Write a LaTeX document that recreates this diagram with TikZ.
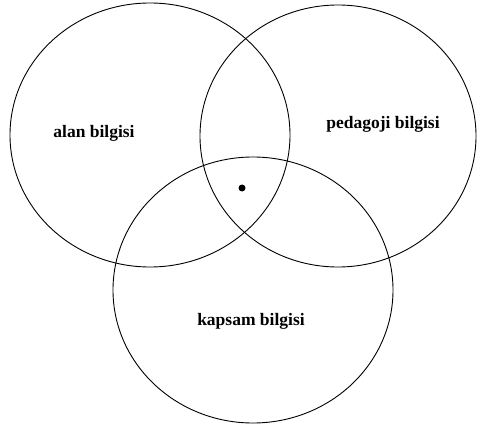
\documentclass[tikz,border=0pt]{standalone}
\usepackage{fontspec}
\setmainfont{Liberation Serif}
\begin{document}
\begin{tikzpicture}[x=1pt, y=-1pt, line width=0.9pt,
    lbl/.style={font=\fontsize{17.5}{20}\selectfont\bfseries, inner sep=0pt}]
    % Picture frame (pixel coordinates, y down)
    \useasboundingbox (0, 0) rectangle (478, 430);

    % Radii of the three sets
    \def\rx{140}
    \def\ry{132}

    % Draw the three sets
    \draw (150, 135) ellipse ({\rx} and {\ry});   % alan
    \draw (338, 136) ellipse ({\rx - 2} and {\ry - 1}); % pedagoji
    \draw (253, 290) ellipse ({\rx} and {\ry + 1});   % kapsam

    % Label the sets
    \node[lbl] (alan) at (94, 133) {alan bilgisi};
    \node[lbl] (pedagoji) at (383, 124) {pedagoji bilgisi};
    \node[lbl] (kapsam) at (251, 321) {kapsam bilgisi};

    % Mark the common part
    \fill (242, 188) circle (3.5);
\end{tikzpicture}
\end{document}
